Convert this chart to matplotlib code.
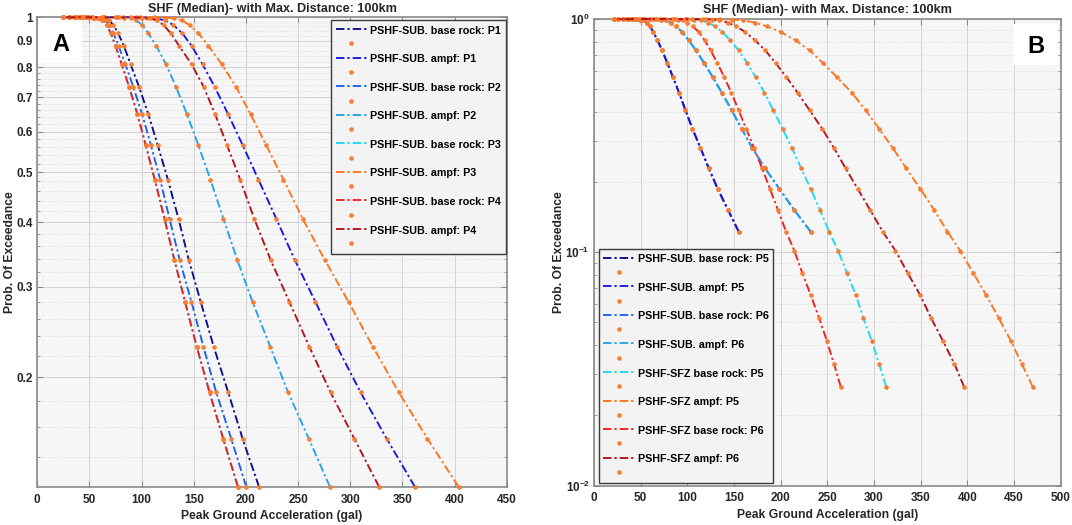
import matplotlib
matplotlib.use('Agg')
import matplotlib.pyplot as plt
from matplotlib.lines import Line2D
from matplotlib.patches import Rectangle
from matplotlib.ticker import FixedLocator, FixedFormatter, NullFormatter, NullLocator

plt.rcParams['font.family'] = ['Liberation Sans', 'DejaVu Sans']
plt.rcParams['font.weight'] = 'bold'
plt.rcParams['mathtext.fontset'] = 'custom'
plt.rcParams['mathtext.rm'] = 'Liberation Sans:bold'
plt.rcParams['mathtext.bf'] = 'Liberation Sans:bold'
plt.rcParams['mathtext.it'] = 'Liberation Sans:bold'

# ---------------- data ----------------
# probability-of-exceedance levels (lowest -> highest); curves use the last len(x) levels
prob_levels = [0.0265, 0.0332, 0.0418, 0.0522, 0.0656, 0.0813, 0.1016,
               0.1226, 0.152, 0.187, 0.229, 0.280, 0.338, 0.406, 0.484, 0.564,
               0.648, 0.733, 0.810, 0.880, 0.931, 0.966, 0.986, 0.995, 0.9988,
               0.9998, 1.0, 1.0, 1.0, 1.0]

# Panel A: PGA (gal) at each level
a_labels = ['PSHF-SUB. base rock: P1', 'PSHF-SUB. ampf: P1',
            'PSHF-SUB. base rock: P2', 'PSHF-SUB. ampf: P2',
            'PSHF-SUB. base rock: P3', 'PSHF-SUB. ampf: P3',
            'PSHF-SUB. base rock: P4', 'PSHF-SUB. ampf: P4']
a_sub_base_p1 = [212.5, 196.8, 183.0, 169.2, 156.7, 145.2, 135.4, 125.2, 115.5, 106.5, 97.5, 89.5,
                 83.0, 77.5, 73.0, 69.0, 64.5, 59.0, 52.0, 45.0, 38.0, 31.0, 25.0]
a_sub_ampf_p1 = [361.9, 334.9, 309.9, 287.5, 266.7, 246.8, 229.2, 212.0, 197.0, 183.0, 170.0, 158.5,
                 148.0, 139.0, 130.5, 122.5, 114.5, 105.5, 95.0, 82.0, 64.0, 45.0, 25.0]
a_sub_base_p2 = [200.3, 185.9, 171.5, 159.3, 147.8, 136.5, 126.8, 117.8, 109.0, 100.5, 92.0, 84.5,
                 78.0, 73.0, 69.0, 65.0, 60.5, 55.0, 49.0, 42.0, 36.0, 30.0, 25.0]
a_sub_ampf_p2 = [280.4, 260.3, 240.4, 223.4, 206.4, 191.7, 178.5, 166.0, 154.5, 143.5, 133.0, 123.5,
                 114.0, 106.5, 100.5, 95.0, 89.5, 83.0, 75.0, 64.0, 52.0, 38.0, 25.0]
a_sub_base_p3 = [192.3, 178.2, 165.1, 152.9, 141.7, 131.4, 122.0, 112.6, 104.0, 96.0, 88.0, 81.0,
                 75.0, 70.5, 66.5, 62.5, 58.0, 53.0, 47.0, 41.0, 35.0, 30.0, 25.0]
a_sub_ampf_p3 = [403.8, 374.0, 346.5, 321.8, 298.4, 275.6, 254.5, 236.0, 219.5, 204.5, 190.5, 177.0,
                 164.0, 154.5, 146.0, 138.5, 131.0, 122.0, 112.0, 98.0, 75.0, 50.0, 25.0]
a_sub_base_p4 = [192.3, 178.2, 165.1, 152.9, 141.7, 131.4, 122.0, 112.6, 104.0, 96.0, 88.0, 81.0,
                 75.0, 70.5, 66.5, 62.5, 58.0, 53.0, 47.0, 41.0, 35.0, 30.0, 25.0]
a_sub_ampf_p4 = [327.6, 303.9, 281.1, 260.9, 241.7, 223.7, 208.0, 194.5, 182.0, 170.5, 159.5, 148.0,
                 136.0, 128.0, 121.0, 114.5, 108.0, 100.0, 90.0, 78.0, 62.0, 44.0, 25.0]

# Panel B
b_labels = ['PSHF-SUB. base rock: P5', 'PSHF-SUB. ampf: P5',
            'PSHF-SUB. base rock: P6', 'PSHF-SUB. ampf: P6',
            'PSHF-SFZ base rock: P5', 'PSHF-SFZ ampf: P5',
            'PSHF-SFZ base rock: P6', 'PSHF-SFZ ampf: P6']
b_sub_base_p5 = [155.0, 143.5, 132.5, 123.0, 114.0, 105.5, 98.0, 91.0, 84.5, 78.5, 73.0, 68.0,
                 63.5, 60.0, 56.5, 53.0, 49.5, 45.5, 41.0, 36.5, 31.0, 26.0, 21.0]
b_sub_ampf_p5 = [155.0, 143.5, 132.5, 123.0, 114.0, 105.5, 98.0, 91.0, 84.5, 78.5, 73.0, 68.0,
                 63.5, 60.0, 56.5, 53.0, 49.5, 45.5, 41.0, 36.5, 31.0, 26.0, 21.0]
b_sub_base_p6 = [232.0, 214.3, 198.6, 183.2, 169.6, 158.2, 147.5, 136.8, 127.1, 117.9, 109.3, 101.4,
                 94.3, 87.9, 82.1, 77.0, 72.0, 66.5, 60.0, 52.0, 42.0, 31.0, 21.0]
b_sub_ampf_p6 = [232.0, 214.3, 198.6, 183.2, 169.6, 158.2, 147.5, 136.8, 127.1, 117.9, 109.3, 101.4,
                 94.3, 87.9, 82.1, 77.0, 72.0, 66.5, 60.0, 52.0, 42.0, 31.0, 21.0]
b_sfz_base_p5 = [312.9, 305.4, 297.5, 288.6, 280.4, 271.1, 261.4, 251.8, 242.1, 232.0, 222.0, 212.0,
                 202.0, 192.0, 182.5, 173.0, 164.0, 155.0, 146.0, 137.5, 129.5, 122.0, 114.5, 107.0,
                 98.0, 86.0, 71.0, 55.0, 38.0, 21.0]
b_sfz_ampf_p5 = [470.0, 458.2, 446.4, 433.6, 420.0, 406.4, 392.1, 378.6, 364.3, 349.5, 334.5, 320.0,
                 305.5, 291.0, 276.0, 260.0, 245.0, 231.0, 216.0, 200.0, 185.0, 172.0, 160.0, 148.0,
                 135.0, 120.0, 100.0, 74.0, 48.0, 21.0]
b_sfz_base_p6 = [264.3, 257.1, 249.3, 241.1, 232.1, 223.2, 214.6, 205.7, 197.0, 188.5, 180.0, 171.5,
                 163.0, 155.0, 147.0, 139.5, 132.0, 125.0, 118.5, 112.0, 106.0, 100.0, 95.0, 90.0,
                 84.0, 76.0, 63.0, 49.0, 35.0, 21.0]
b_sfz_ampf_p6 = [396.4, 386.1, 373.6, 361.1, 349.3, 336.1, 322.9, 309.3, 295.7, 282.5, 269.5, 257.0,
                 244.5, 231.0, 218.0, 206.0, 194.5, 183.5, 172.5, 162.0, 152.0, 143.0, 134.0, 126.0,
                 117.0, 105.0, 88.0, 67.0, 45.0, 21.0]

a_series = [a_sub_base_p1, a_sub_ampf_p1, a_sub_base_p2, a_sub_ampf_p2,
            a_sub_base_p3, a_sub_ampf_p3, a_sub_base_p4, a_sub_ampf_p4]
b_series = [b_sub_base_p5, b_sub_ampf_p5, b_sub_base_p6, b_sub_ampf_p6,
            b_sfz_base_p5, b_sfz_ampf_p5, b_sfz_base_p6, b_sfz_ampf_p6]

a_xticks = [0, 50, 100, 150, 200, 250, 300, 350, 400, 450]
b_xticks = [0, 50, 100, 150, 200, 250, 300, 350, 400, 450, 500]
a_yticks = [0.2, 0.3, 0.4, 0.5, 0.6, 0.7, 0.8, 0.9, 1.0]
a_yticklabels = ['0.2', '0.3', '0.4', '0.5', '0.6', '0.7', '0.8', '0.9', '1']
a_yminor = [0.14, 0.16, 0.18, 0.22, 0.24, 0.26, 0.28, 0.32, 0.34, 0.36, 0.38, 0.42, 0.44, 0.46,
            0.48, 0.52, 0.54, 0.56, 0.58, 0.62, 0.64, 0.66, 0.68, 0.72, 0.74, 0.76, 0.78, 0.82,
            0.84, 0.86, 0.88, 0.92, 0.94, 0.96, 0.98]
b_yticks = [0.01, 0.1, 1.0]
b_yticklabels = [r'$\mathbf{10^{-2}}$', r'$\mathbf{10^{-1}}$', r'$\mathbf{10^{0}}$']
b_yminor = [0.02, 0.03, 0.04, 0.05, 0.06, 0.07, 0.08, 0.09,
            0.2, 0.3, 0.4, 0.5, 0.6, 0.7, 0.8, 0.9]

title = 'SHF (Median)- with Max. Distance: 100km'
xlabel = 'Peak Ground Acceleration (gal)'
ylabel = 'Prob. Of Exceedance'

# ---------------- style ----------------
colors = ['#0c0c8a', '#1616e4', '#1c5fee', '#22a2ea', '#18dcf2', '#ff7417', '#f01e1e', '#b3111b']
DOT = '#f77d32'
DASHDOT = (0, (4.5, 1.6, 1.2, 1.6))
TXT = '#262626'
SPINE = '#8a8a8a'

fig = plt.figure(figsize=(10.72, 5.25), dpi=100)
axA = fig.add_axes([37.3 / 1072, 1 - 486.7 / 525, 469.4 / 1072, 469.4 / 525])
axB = fig.add_axes([594.0 / 1072, 1 - 485.5 / 525, 466.8 / 1072, 466.5 / 525])


def style_axes(ax):
    ax.set_facecolor('#f6f6f6')
    ax.set_axisbelow(True)
    for s in ax.spines.values():
        s.set_color(SPINE)
        s.set_linewidth(1.2)
    ax.tick_params(which='both', direction='in', top=True, right=True, color=SPINE,
                   labelcolor=TXT, labelsize=8.5)
    ax.tick_params(which='major', length=4, width=0.8)
    ax.tick_params(which='minor', length=2, width=0.6)
    ax.tick_params(axis='x', pad=5)
    ax.tick_params(axis='y', pad=3)
    ax.xaxis.set_minor_locator(NullLocator())
    ax.grid(True, which='major', color='#d2d2d2', lw=0.7)
    ax.grid(True, which='minor', axis='y', color='#d8d8d8', lw=0.6, ls=':')
    ax.set_title(title, fontsize=9.1, fontweight='bold', color=TXT, pad=4)
    ax.set_xlabel(xlabel, fontsize=8.7, fontweight='bold', color=TXT)
    ax.set_ylabel(ylabel, fontsize=8.7, fontweight='bold', color=TXT)


def draw(ax, series, labels):
    handles, labs = [], []
    for xs, c, lab in zip(series, colors, labels):
        p = prob_levels[-len(xs):]
        ax.plot(xs, p, color=c, ls=DASHDOT, lw=1.35, clip_on=False, zorder=3)
        ax.plot(xs, p, ls='none', marker='o', ms=3.3, mfc=DOT, mec=DOT, mew=0,
                clip_on=False, zorder=3)
        handles.append(Line2D([], [], color=c, ls=DASHDOT, lw=1.35))
        labs.append(lab)
        handles.append(Line2D([], [], ls='none', marker='o', ms=3.3, mfc=DOT, mec=DOT, mew=0))
        labs.append('')
    return handles, labs


LEG_KW = dict(borderaxespad=0, fontsize=7.75, frameon=True, fancybox=False,
              edgecolor='#3c3c3c', facecolor='#f3f3f3', framealpha=1, handlelength=2.9,
              handleheight=1.2, handletextpad=0.32, labelspacing=0.29, borderpad=0.42)

# Panel A
style_axes(axA)
axA.set_yscale('log')
hA, lA = draw(axA, a_series, a_labels)
axA.set_xlim(0, 450)
axA.set_ylim(0.1226, 1.0)
axA.xaxis.set_major_locator(FixedLocator(a_xticks))
axA.yaxis.set_major_locator(FixedLocator(a_yticks))
axA.yaxis.set_major_formatter(FixedFormatter(a_yticklabels))
axA.yaxis.set_minor_locator(FixedLocator(a_yminor))
axA.yaxis.set_minor_formatter(NullFormatter())
axA.yaxis.set_label_coords(-0.046, 0.5)
axA.xaxis.set_label_coords(0.5, -0.050)
legA = axA.legend(hA, lA, loc='upper right', bbox_to_anchor=(0.998, 0.994), **LEG_KW)
legA.get_frame().set_linewidth(1.0)
axA.add_patch(Rectangle((0.002, 0.903), 0.093, 0.095, transform=axA.transAxes,
                        facecolor='white', edgecolor='none', zorder=1.5))
axA.text(0.05, 0.942, 'A', transform=axA.transAxes, fontsize=17, fontweight='bold',
         color='black', ha='center', va='center', zorder=6)

# Panel B
style_axes(axB)
axB.set_yscale('log')
hB, lB = draw(axB, b_series, b_labels)
axB.set_xlim(0, 500)
axB.set_ylim(0.01, 1.0)
axB.xaxis.set_major_locator(FixedLocator(b_xticks))
axB.yaxis.set_major_locator(FixedLocator(b_yticks))
axB.yaxis.set_major_formatter(FixedFormatter(b_yticklabels))
axB.yaxis.set_minor_locator(FixedLocator(b_yminor))
axB.yaxis.set_minor_formatter(NullFormatter())
axB.yaxis.set_label_coords(-0.062, 0.5)
axB.xaxis.set_label_coords(0.5, -0.050)
legB = axB.legend(hB, lB, loc='lower left', bbox_to_anchor=(0.0099, 0.0054), **LEG_KW)
legB.get_frame().set_linewidth(1.0)
axB.add_patch(Rectangle((0.900, 0.901), 0.094, 0.088, transform=axB.transAxes,
                        facecolor='white', edgecolor='none', zorder=1.5))
axB.text(0.947, 0.940, 'B', transform=axB.transAxes, fontsize=17, fontweight='bold',
         color='black', ha='center', va='center', zorder=6)

fig.savefig('out.png', dpi=100, facecolor='white')
